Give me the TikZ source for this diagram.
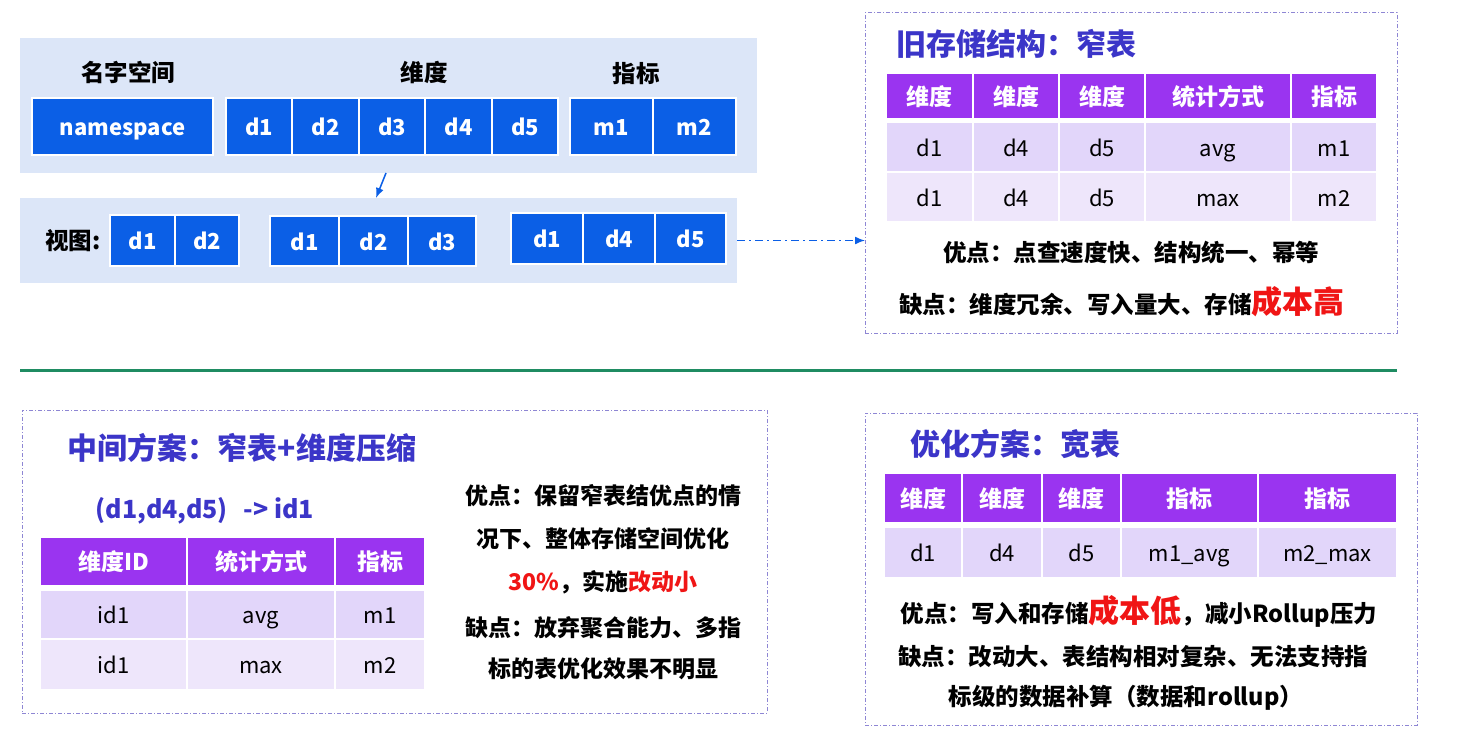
\documentclass[tikz,border=0pt]{standalone}
\usepackage{fontspec}
\setmainfont{Noto Sans CJK SC}
\usetikzlibrary{arrows.meta}
\definecolor{cellblue}{HTML}{0B5FE6}
\definecolor{panelbg}{HTML}{DCE6F8}
\definecolor{hdrpurple}{HTML}{9A34F0}
\definecolor{rowa}{HTML}{E2D6FA}
\definecolor{rowb}{HTML}{EEE6FB}
\definecolor{titleblue}{HTML}{3B35C8}
\definecolor{dashcol}{HTML}{8E86D4}
\definecolor{hotred}{HTML}{F01515}
\definecolor{sepgreen}{HTML}{1F8C62}
\newcommand\cellbox[7]{\node[#6, minimum width=#4pt-#2pt, minimum height=#5pt-#3pt, anchor=north west] (#1) at (#2,#3) {#7};}
\tikzset{
  cellbase/.style={inner sep=0pt, outer sep=0pt},
  panel/.style={cellbase, fill=panelbg},
  celltext/.style={text height=22pt, text depth=4pt},
  bluecell/.style={cellbase, celltext, fill=cellblue, draw=white, line width=1.5pt, text=white, font=\fontsize{22}{25}\selectfont\bfseries},
  hdrcell/.style={cellbase, celltext, fill=hdrpurple, draw=white, line width=1.5pt, text=white, font=\fontsize{23}{26}\selectfont\bfseries},
  rowacell/.style={cellbase, celltext, fill=rowa, draw=white, line width=1.5pt, text=black, font=\fontsize{22}{25}\selectfont},
  rowbcell/.style={cellbase, celltext, fill=rowb, draw=white, line width=1.5pt, text=black, font=\fontsize{22}{25}\selectfont},
  dashbox/.style={cellbase, draw=dashcol, line width=1pt, dash pattern=on 4pt off 2pt on 1pt off 2pt},
  lbl/.style={inner sep=0pt, font=\fontsize{23.5}{27}\selectfont\bfseries, text=black},
  ttl/.style={inner sep=0pt, font=\fontsize{30}{34}\selectfont\bfseries, text=titleblue},
  note/.style={inner sep=0pt, font=\fontsize{23.5}{27}\selectfont\bfseries, text=black},
  bluearrow/.style={draw=cellblue, line width=1.5pt, -{Latex[length=10pt,width=8pt]}},
}
\newcommand\hotbig[1]{{\fontsize{31}{33}\selectfont\textcolor{hotred}{#1}}}
\begin{document}
\begin{tikzpicture}[x=1pt,y=-1pt]
\useasboundingbox[fill=white] (0,0) rectangle (1472,752);
% ===== top-left panels =====
\cellbox{toppanel}{20}{38}{757}{173}{panel}{}
\node[lbl] (lns) at (128,72) {名字空间};
\node[lbl] (ldim) at (424,72) {维度};
\node[lbl] (lmet) at (636,74) {指标};
\cellbox{ns}{32}{98}{213}{155}{bluecell}{namespace}
\cellbox{td1}{226}{98}{292}{155}{bluecell}{d1}
\cellbox{td2}{292}{98}{359}{155}{bluecell}{d2}
\cellbox{td3}{359}{98}{425}{155}{bluecell}{d3}
\cellbox{td4}{425}{98}{492}{155}{bluecell}{d4}
\cellbox{td5}{492}{98}{558}{155}{bluecell}{d5}
\cellbox{tm1}{570}{98}{653}{155}{bluecell}{m1}
\cellbox{tm2}{653}{98}{736}{155}{bluecell}{m2}
\cellbox{viewpanel}{20}{198}{737}{283}{panel}{}
\node[lbl] (lview) at (73,241) {视图:};
\cellbox{va1}{110}{215}{175}{266}{bluecell}{d1}
\cellbox{va2}{175}{215}{239}{266}{bluecell}{d2}
\cellbox{vb1}{270}{216}{339}{266}{bluecell}{d1}
\cellbox{vb2}{339}{216}{408}{266}{bluecell}{d2}
\cellbox{vb3}{408}{216}{476}{266}{bluecell}{d3}
\cellbox{vc1}{511}{213}{583}{264}{bluecell}{d1}
\cellbox{vc2}{583}{213}{655}{264}{bluecell}{d4}
\cellbox{vc3}{655}{213}{726}{264}{bluecell}{d5}
\draw[bluearrow] ([xshift=-2.5pt]toppanel.south) -- ([xshift=-2.5pt]viewpanel.north);
% ===== old structure =====
\cellbox{oldbox}{865}{13}{1397}{333}{dashbox}{}
\draw[bluearrow, dash pattern=on 8pt off 4pt on 2pt off 4pt] (viewpanel.east) -- (viewpanel.east -| oldbox.west);
\node[ttl] (oldttl) at (1016,44) {旧存储结构：窄表};
\cellbox{oh1}{886}{73}{973}{119}{hdrcell}{维度}
\cellbox{oh2}{973}{73}{1059}{119}{hdrcell}{维度}
\cellbox{oh3}{1059}{73}{1145}{119}{hdrcell}{维度}
\cellbox{oh4}{1145}{73}{1291}{119}{hdrcell}{统计方式}
\cellbox{oh5}{1291}{73}{1377}{119}{hdrcell}{指标}
\cellbox{oa1}{886}{122}{973}{172}{rowacell}{d1}
\cellbox{oa2}{973}{122}{1059}{172}{rowacell}{d4}
\cellbox{oa3}{1059}{122}{1145}{172}{rowacell}{d5}
\cellbox{oa4}{1145}{122}{1291}{172}{rowacell}{avg}
\cellbox{oa5}{1291}{122}{1377}{172}{rowacell}{m1}
\cellbox{ob1}{886}{172}{973}{222}{rowbcell}{d1}
\cellbox{ob2}{973}{172}{1059}{222}{rowbcell}{d4}
\cellbox{ob3}{1059}{172}{1145}{222}{rowbcell}{d5}
\cellbox{ob4}{1145}{172}{1291}{222}{rowbcell}{max}
\cellbox{ob5}{1291}{172}{1377}{222}{rowbcell}{m2}
\node[note] (oldpro) at (1131,253) {优点：点查速度快、结构统一、幂等};
\node[note] (oldcon) at (1122,302) {缺点：维度冗余、写入量大、存储\hotbig{成本高}};
% ===== separator =====
\coordinate (sepL) at (20,370);
\coordinate (sepR) at (1397,370);
\draw[sepgreen, line width=3pt] (sepL) -- (sepR);
% ===== middle scheme =====
\cellbox{midbox}{22}{410}{767}{713}{dashbox}{}
\node[ttl] (midttl) at (242,448) {中间方案：窄表+维度压缩};
\node[lbl, text=titleblue, font=\fontsize{25}{28}\selectfont\bfseries] (midmap) at (205,511) {(d1,d4,d5)\hspace{16pt}-> id1};
\cellbox{mh1}{40}{537}{187}{586}{hdrcell}{维度ID}
\cellbox{mh2}{187}{537}{335}{586}{hdrcell}{统计方式}
\cellbox{mh3}{335}{537}{425}{586}{hdrcell}{指标}
\cellbox{ma1}{40}{590}{187}{639}{rowacell}{id1}
\cellbox{ma2}{187}{590}{335}{639}{rowacell}{avg}
\cellbox{ma3}{335}{590}{425}{639}{rowacell}{m1}
\cellbox{mb1}{40}{639}{187}{690}{rowbcell}{id1}
\cellbox{mb2}{187}{639}{335}{690}{rowbcell}{max}
\cellbox{mb3}{335}{639}{425}{690}{rowbcell}{m2}
\node[note, font=\fontsize{23}{26}\selectfont\bfseries] (midp1) at (603,496) {优点：保留窄表结优点的情};
\node[note, font=\fontsize{23}{26}\selectfont\bfseries] (midp2) at (603,539) {况下、整体存储空间优化};
\node[note, font=\fontsize{23}{26}\selectfont\bfseries] (midp3) at (603,582) {\textcolor{hotred}{30\%}，实施\textcolor{hotred}{改动小}};
\node[note, font=\fontsize{23}{26}\selectfont\bfseries] (midc1) at (603,628) {缺点：放弃聚合能力、多指};
\node[note, font=\fontsize{23}{26}\selectfont\bfseries] (midc2) at (603,669) {标的表优化效果不明显};
% ===== wide table =====
\cellbox{widebox}{865}{413}{1417}{725}{dashbox}{}
\node[ttl] (widettl) at (1015,444) {优化方案：宽表};
\cellbox{wh1}{884}{473}{962}{523}{hdrcell}{维度}
\cellbox{wh2}{962}{473}{1042}{523}{hdrcell}{维度}
\cellbox{wh3}{1042}{473}{1121}{523}{hdrcell}{维度}
\cellbox{wh4}{1121}{473}{1258}{523}{hdrcell}{指标}
\cellbox{wh5}{1258}{473}{1397}{523}{hdrcell}{指标}
\cellbox{wa1}{884}{527}{962}{578}{rowacell}{d1}
\cellbox{wa2}{962}{527}{1042}{578}{rowacell}{d4}
\cellbox{wa3}{1042}{527}{1121}{578}{rowacell}{d5}
\cellbox{wa4}{1121}{527}{1258}{578}{rowacell}{m1\_avg}
\cellbox{wa5}{1258}{527}{1397}{578}{rowacell}{m2\_max}
\node[note] (widepro) at (1139,611) {优点：写入和存储\hotbig{成本低}，减小Rollup压力};
\node[note] (widec1) at (1133,657) {缺点：改动大、表结构相对复杂、无法支持指};
\node[note] (widec2) at (1126,698) {标级的数据补算（数据和rollup）};
\end{tikzpicture}
\end{document}
